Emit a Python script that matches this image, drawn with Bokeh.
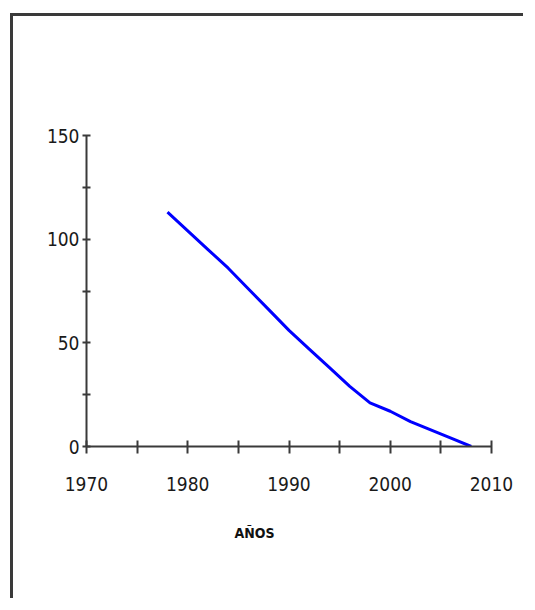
from bokeh.plotting import figure
from bokeh.models import Range1d, FixedTicker, Title
from bokeh.embed import file_html
from bokeh.resources import INLINE

# Data
years = [1978, 1980, 1982, 1984, 1986, 1988, 1990, 1992, 1994, 1996, 1998,
         2000, 2002, 2004, 2006, 2008]
values = [113, 104, 95, 86, 76, 66, 56, 47, 38, 29, 21,
          17, 12, 8, 4, 0]

x_major = [1970, 1980, 1990, 2000, 2010]
x_minor = [1975, 1985, 1995, 2005]
y_major = [0, 50, 100, 150]
y_minor = [25, 75, 125]
x_title = "AÑOS"

FONT = "'DejaVu Sans Condensed', sans-serif"

p = figure(width=513, height=585, output_backend="svg", toolbar_location=None,
           x_range=Range1d(1970, 2010), y_range=Range1d(0, 150),
           min_border_left=73, min_border_right=35, min_border_top=119,
           min_border_bottom=155)
p.styles = {"border-top": "3px solid #3a3a3a", "border-left": "3px solid #3a3a3a",
            "margin-left": "10px", "margin-top": "13px"}

p.outline_line_color = None
p.grid.visible = False
p.background_fill_color = "white"
p.border_fill_color = "white"

p.line(years, values, line_color="#0000ff", line_width=3)

for ax in (p.xaxis[0], p.yaxis[0]):
    ax.axis_line_color = "#3a3a3a"
    ax.axis_line_width = 2
    ax.major_tick_line_color = "#3a3a3a"
    ax.minor_tick_line_color = "#3a3a3a"
    ax.major_tick_line_width = 2
    ax.minor_tick_line_width = 2
    ax.major_label_text_font = FONT
    ax.major_label_text_color = "#1a1a1a"
    ax.major_label_text_font_size = "19px"

p.xaxis.ticker = FixedTicker(ticks=x_major, minor_ticks=x_minor)
p.yaxis.ticker = FixedTicker(ticks=y_major, minor_ticks=y_minor)

p.xaxis.major_tick_in = 6
p.xaxis.major_tick_out = 7
p.xaxis.minor_tick_in = 6
p.xaxis.minor_tick_out = 7
p.xaxis.major_label_standoff = 23

p.yaxis.major_tick_in = 4
p.yaxis.major_tick_out = 4
p.yaxis.minor_tick_in = 4
p.yaxis.minor_tick_out = 4
p.yaxis.major_label_standoff = 3

t = Title(text=x_title, align="left", offset=148, standoff=59,
          text_font=FONT, text_font_size="14px", text_font_style="bold",
          text_color="#111111")
p.add_layout(t, "below")

open("out.html", "w").write(file_html(p, INLINE))
